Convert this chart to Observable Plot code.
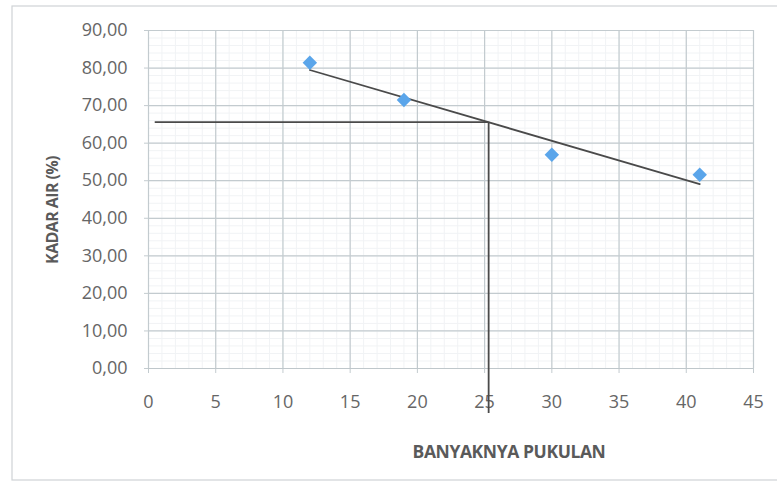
<!DOCTYPE html>
<html>
<head>
<meta charset="utf-8">
<script src="https://cdn.jsdelivr.net/npm/d3@7"></script>
<script src="https://cdn.jsdelivr.net/npm/@observablehq/plot@0.6"></script>
<style>
  html, body { margin: 0; padding: 0; background: #fff; }
  #chart svg { display: block; }
</style>
</head>
<body>
<div id="chart"></div>
<script>
// Data
const pukulan = [12, 19, 30, 41];
const kadarAir = [81.4, 71.5, 56.9, 51.6];
const xTicks = [0, 5, 10, 15, 20, 25, 30, 35, 40, 45];
const yTicks = [0, 10, 20, 30, 40, 50, 60, 70, 80, 90];
const xMinor = d3.range(0, 46, 1);
const yMinor = d3.range(0, 91, 2);
// Reading lines (interpolation at 25 blows)
const refX = [25.3];
const refY = [65.6];
const refXStart = [0.5];
const refYEnd = [-12];

const points = pukulan.map((x, i) => ({x, y: kadarAir[i]}));

const fmt = d => d.toFixed(2).replace(".", ",");
const font = "'Open Sans', sans-serif";

const chart = Plot.plot({
  width: 777,
  height: 483,
  marginLeft: 148,
  marginRight: 24,
  marginTop: 30,
  marginBottom: 115,
  style: {fontFamily: font, fontSize: "18px", color: "#6a6a6a", background: "transparent"},
  x: {domain: [0, 45], ticks: xTicks},
  y: {domain: [0, 90], ticks: yTicks},
  marks: [
    Plot.ruleX(xMinor, {stroke: "#f1f3f5", strokeWidth: 1}),
    Plot.ruleY(yMinor, {stroke: "#f1f3f5", strokeWidth: 1}),
    Plot.gridX(xTicks, {stroke: "#c3cbcf", strokeOpacity: 1, strokeWidth: 1.2}),
    Plot.gridY(yTicks, {stroke: "#c3cbcf", strokeOpacity: 1, strokeWidth: 1.2}),
    Plot.axisX(xTicks, {tickSize: 5, tickPadding: 22, stroke: "#c3cbcf", label: null, fill: "#666", fontSize: 18}),
    Plot.axisY(yTicks, {tickSize: 4, tickPadding: 17, stroke: "#c3cbcf", label: null, tickFormat: fmt, fill: "#666", fontSize: 18}),
    Plot.ruleY([0], {stroke: "#bfc7cb", strokeWidth: 1.2}),
    Plot.ruleY(refY, {x1: refXStart[0], x2: refX[0], stroke: "#4a4a4a", strokeWidth: 1.8}),
    Plot.ruleX(refX, {y1: refYEnd[0], y2: refY[0], stroke: "#4a4a4a", strokeWidth: 1.8}),
    Plot.linearRegressionY(points, {x: "x", y: "y", ci: 0, stroke: "#4a4a4a", strokeWidth: 1.8}),
    Plot.dot(points, {x: "x", y: "y", symbol: "diamond2", r: 6.5, fill: "#5aa5ea", stroke: "none"})
  ]
});

const svg = d3.select(chart);
// Outer chart-area frame
svg.insert("rect", ":first-child")
  .attr("x", 12).attr("y", 6).attr("width", 780).attr("height", 474)
  .attr("fill", "none").attr("stroke", "#cfd3d6").attr("stroke-width", 1.2);
// Axis titles
svg.append("text")
  .attr("x", 509).attr("y", 458)
  .attr("text-anchor", "middle")
  .attr("font-family", font).attr("font-weight", "bold").attr("font-size", 17.5)
  .attr("letter-spacing", "-0.4px")
  .attr("fill", "#5a5a5a")
  .text("BANYAKNYA PUKULAN");
svg.append("text")
  .attr("transform", "translate(58,210) rotate(-90)")
  .attr("text-anchor", "middle")
  .attr("font-family", font).attr("font-weight", "bold").attr("font-size", 16)
  .attr("letter-spacing", "-0.6px")
  .attr("fill", "#5a5a5a")
  .text("KADAR AIR (%)");

document.getElementById("chart").appendChild(chart);
</script>
</body>
</html>
